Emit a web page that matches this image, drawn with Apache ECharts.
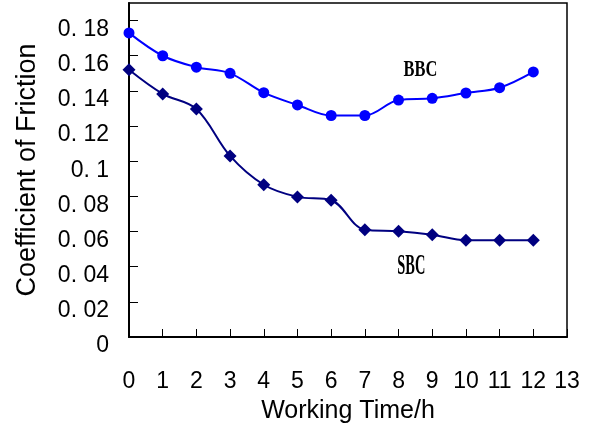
<!DOCTYPE html>
<html>
<head>
<meta charset="utf-8">
<script src="https://cdn.jsdelivr.net/npm/echarts@6/dist/echarts.min.js"></script>
<style>html,body{margin:0;padding:0;background:#fff;}#c{width:590px;height:429px;}</style>
</head>
<body>
<div id="c"></div>
<script>
var hours = [0,1,2,3,4,5,6,7,8,9,10,11,12];
var bbc = [0.173,0.160,0.1535,0.150,0.139,0.132,0.126,0.126,0.1348,0.1358,0.1388,0.1418,0.1508];
var sbc = [0.152,0.1383,0.1297,0.103,0.0866,0.0797,0.0778,0.061,0.0602,0.0582,0.0551,0.0551,0.0551];
var bbcLabel = 'BBC';
var sbcLabel = 'SBC';
var xName = 'Working Time/h';
var yName = 'Coefficient of Friction';

var chart = echarts.init(document.getElementById('c'), null, {renderer:'canvas'});
function pairs(a){ return hours.map(function(h,i){ return [h, a[i]]; }); }
var font = 'Liberation Sans, Arial, sans-serif';
chart.setOption({
  animation:false,
  grid:{left:129,right:23,top:3,bottom:92,show:true,borderColor:'#000',borderWidth:1.5},
  xAxis:{type:'value',min:0,max:13,interval:1,
    name:xName,nameLocation:'middle',nameGap:62,
    nameTextStyle:{fontFamily:font,fontSize:25,color:'#000'},
    axisLine:{lineStyle:{color:'#000',width:2}},
    axisTick:{inside:true,length:8,lineStyle:{color:'#000',width:1}},
    axisLabel:{margin:33,fontFamily:font,fontSize:23,color:'#000'},
    splitLine:{show:false}},
  yAxis:{type:'value',min:0,max:0.19,interval:0.02,
    name:yName,nameLocation:'middle',nameGap:88,
    nameTextStyle:{fontFamily:font,fontSize:27,color:'#000'},
    axisLine:{lineStyle:{color:'#000',width:2}},
    axisTick:{inside:true,length:9,lineStyle:{color:'#000',width:1}},
    axisLabel:{margin:20,fontFamily:font,fontSize:23,color:'#000',showMaxLabel:false,
      verticalAlign:'top',lineHeight:18,
      formatter:function(v){ if(v===0) return '0'; var s=String(Math.round(v*100)/100); return s.replace('0.','0. '); }},
    splitLine:{show:false}},
  series:[
    {type:'line',data:pairs(bbc),smooth:0.35,symbol:'circle',symbolSize:11,
      lineStyle:{color:'#0000FF',width:2},itemStyle:{color:'#0000FF'}},
    {type:'line',data:pairs(sbc),smooth:0.35,symbol:'diamond',symbolSize:13,
      lineStyle:{color:'#000080',width:2},itemStyle:{color:'#000080'}}
  ]
});
var p1 = chart.convertToPixel({gridIndex:0},[8.65,0.152]);
var p2 = chart.convertToPixel({gridIndex:0},[8.38,0.040]);
chart.setOption({graphic:[
  {type:'text',x:p1[0],y:p1[1],scaleX:0.82,scaleY:1.15,style:{text:bbcLabel,font:'bold 20px "Liberation Serif", serif',fill:'#000',align:'center',verticalAlign:'middle'}},
  {type:'text',x:p2[0],y:p2[1],scaleX:0.72,scaleY:1.45,style:{text:sbcLabel,font:'bold 20px "Liberation Serif", serif',fill:'#000',align:'center',verticalAlign:'middle'}}
]});
</script>
</body>
</html>
